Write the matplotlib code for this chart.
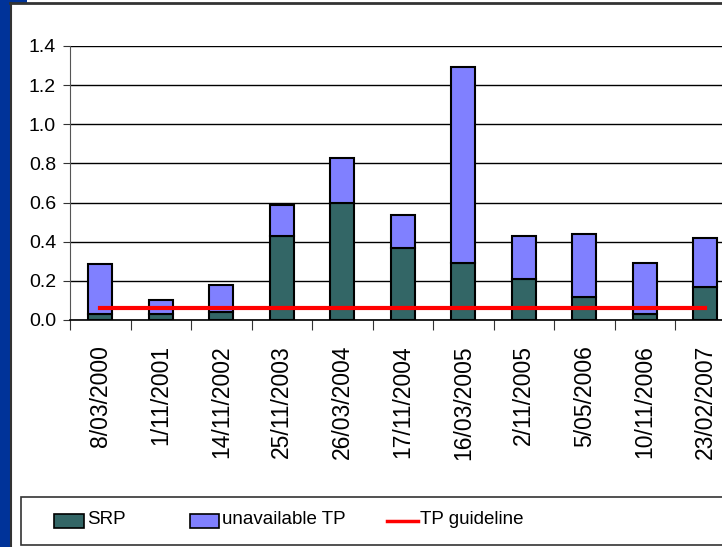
import matplotlib
matplotlib.use("Agg")
import matplotlib.pyplot as plt
import numpy as np
from matplotlib.patches import Rectangle
from matplotlib.lines import Line2D

dates = ["8/03/2000", "1/11/2001", "14/11/2002", "25/11/2003", "26/03/2004",
         "17/11/2004", "16/03/2005", "2/11/2005", "5/05/2006", "10/11/2006",
         "23/02/2007"]
srp = [0.03, 0.03, 0.04, 0.43, 0.60, 0.37, 0.29, 0.21, 0.115, 0.03, 0.17]
total_tp = [0.285, 0.104, 0.18, 0.59, 0.83, 0.537, 1.294, 0.431, 0.441, 0.293, 0.421]
unavail_tp = [t - s for t, s in zip(total_tp, srp)]
tp_guideline = 0.063
yticks = [0.0, 0.2, 0.4, 0.6, 0.8, 1.0, 1.2, 1.4]

plt.rcParams['font.family'] = ['Liberation Sans', 'DejaVu Sans']

W, H = 722, 547
fig = plt.figure(figsize=(W / 100, H / 100), dpi=100)
fig.patch.set_facecolor("white")

def fx(px):
    return px / W

def fy(py):
    return 1 - py / H

# blue side strip
fig.patches.append(Rectangle((0, 0), fx(10), 1, transform=fig.transFigure,
                             facecolor="#003399", edgecolor="none", zorder=0))
fig.patches.append(Rectangle((0, fy(3)), fx(27), 3 / H, transform=fig.transFigure,
                             facecolor="#003399", edgecolor="none", zorder=0))
# chart border lines
fig.lines.append(Line2D([fx(10), 1], [fy(3), fy(3)], transform=fig.transFigure,
                        color="#333333", lw=2))
fig.lines.append(Line2D([fx(11), fx(11)], [0, fy(3)], transform=fig.transFigure,
                        color="#333333", lw=1.5))

# axes: left spine x=70, y0 at 320, y1.4 at 46; 11 categories of ~60.5px
left = 70
cat_w = 60.5
right = left + cat_w * len(dates)
ax = fig.add_axes([fx(left), fy(320), fx(right - left), (320 - 46) / H])
x = np.arange(len(dates))
ax.bar(x, srp, width=0.4, color="#336666", edgecolor="black", linewidth=1.5, zorder=3)
ax.bar(x, unavail_tp, bottom=srp, width=0.4, color="#8080ff", edgecolor="black",
       linewidth=1.5, zorder=3)
ax.plot([x[0], x[-1]], [tp_guideline, tp_guideline], color="#ff0000", lw=3, zorder=4)

ax.set_xlim(-0.5, len(dates) - 0.5)
ax.set_ylim(0, 1.4)
ax.set_yticks(yticks)
ax.set_yticklabels([f"{v:.1f}" for v in yticks], fontsize=14)
ax.yaxis.grid(True, color="black", lw=1)
ax.set_axisbelow(True)
ax.set_xticks(np.arange(len(dates) + 1) - 0.5)
ax.set_xticklabels([])
ax.set_xticks(x, minor=True)
ax.set_xticklabels(dates, minor=True, rotation=90, fontsize=16.5)
ax.tick_params(axis="x", which="minor", length=0, pad=18)
ax.tick_params(axis="x", which="major", length=7, direction="out", color="#333333")
ax.tick_params(axis="y", length=5, direction="out", color="#333333", pad=5)
for s in ["top", "right"]:
    ax.spines[s].set_visible(False)
ax.spines["left"].set_color("#555555")
ax.spines["bottom"].set_color("black")
ax.spines["bottom"].set_linewidth(1.2)

# legend box
fig.patches.append(Rectangle((fx(21), fy(545)), 1, (545 - 497) / H, transform=fig.transFigure,
                             facecolor="white", edgecolor="#333333", lw=1.2, zorder=1))
ly = fy(520)
fig.patches.append(Rectangle((fx(54), fy(528)), fx(30), 14 / H, transform=fig.transFigure,
                             facecolor="#336666", edgecolor="black", lw=1.2, zorder=2))
fig.text(fx(87), ly, "SRP", fontsize=13.5, va="center", ha="left")
fig.patches.append(Rectangle((fx(190), fy(528)), fx(29), 14 / H, transform=fig.transFigure,
                             facecolor="#8080ff", edgecolor="black", lw=1.2, zorder=2))
fig.text(fx(222), ly, "unavailable TP", fontsize=13.5, va="center", ha="left")
fig.lines.append(Line2D([fx(387), fx(418)], [fy(521), fy(521)], transform=fig.transFigure,
                        color="#ff0000", lw=2.5, zorder=2))
fig.text(fx(420), ly, "TP guideline", fontsize=13.5, va="center", ha="left")

fig.savefig("out.png", dpi=100)
